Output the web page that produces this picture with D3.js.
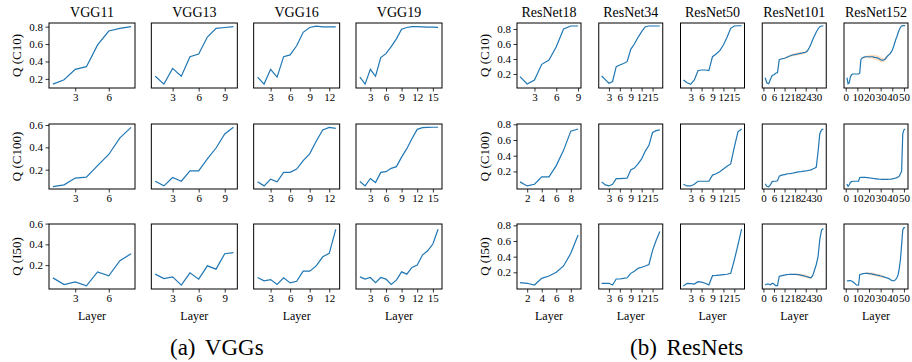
<!DOCTYPE html>
<html>
<head>
<meta charset="utf-8">
<script src="https://cdn.jsdelivr.net/npm/d3@7"></script>
<style>
  body { margin: 0; background: #fff; }
  svg { display: block; font-family: 'Liberation Serif', 'Times New Roman', serif; }
</style>
</head>
<body>
<svg id="chart" width="912" height="362"></svg>
<script>
// ---- data ----
const vggNames = ['VGG11', 'VGG13', 'VGG16', 'VGG19']
const resNames = ['ResNet18', 'ResNet34', 'ResNet50', 'ResNet101', 'ResNet152']
const rowLabels = ['Q (C10)', 'Q (C100)', 'Q (I50)']
const captions = ['(a) VGGs', '(b) ResNets']

const vggXTicks = [[3, 6], [3, 6, 9], [3, 6, 9, 12], [3, 6, 9, 12, 15]]
const resXTicksTop = [[3, 6, 9], [3, 6, 9, 12, 15], [3, 6, 9, 12, 15], [0, 6, 12, 18, 24, 30], [0, 10, 20, 30, 40, 50]]
const resXTicksLow = [[2, 4, 6, 8], [3, 6, 9, 12, 15], [3, 6, 9, 12, 15], [0, 6, 12, 18, 24, 30], [0, 10, 20, 30, 40, 50]]
const vggYTicks = [[0.2, 0.4, 0.6, 0.8], [0.2, 0.4, 0.6], [0.2, 0.4, 0.6]]
const resYTicks = [[0.2, 0.4, 0.6, 0.8], [0.2, 0.4, 0.6, 0.8], [0.2, 0.4, 0.6, 0.8]]
const vggYDomains = [[0.095, 0.842], [0.027, 0.609], [-0.03, 0.596]]
const resYDomains = [[0.013, 0.88], [-0.024, 0.804], [-0.013, 0.817]]

// VGG, Q per layer
const vgg11C10 = [0.14, 0.19, 0.31, 0.34, 0.59, 0.75, 0.78, 0.80]
const vgg13C10 = [0.23, 0.14, 0.32, 0.23, 0.455, 0.485, 0.68, 0.78, 0.79, 0.80]
const vgg16C10 = [0.22, 0.14, 0.31, 0.22, 0.455, 0.475, 0.58, 0.735, 0.79, 0.805, 0.797, 0.797, 0.797]
const vgg19C10 = [0.22, 0.14, 0.31, 0.23, 0.445, 0.49, 0.57, 0.66, 0.77, 0.79, 0.80, 0.80, 0.797, 0.795, 0.794, 0.792]

const vgg11C100 = [0.048, 0.064, 0.125, 0.133, 0.236, 0.336, 0.485, 0.579]
const vgg13C100 = [0.097, 0.055, 0.13, 0.097, 0.19, 0.19, 0.297, 0.394, 0.52, 0.58]
const vgg16C100 = [0.091, 0.055, 0.115, 0.091, 0.176, 0.176, 0.206, 0.282, 0.342, 0.455, 0.555, 0.579, 0.57]
const vgg19C100 = [0.094, 0.055, 0.121, 0.085, 0.176, 0.182, 0.212, 0.227, 0.312, 0.388, 0.479, 0.561, 0.576, 0.579, 0.58, 0.58]

const vgg11I50 = [0.077, 0.013, 0.039, 0.0, 0.135, 0.097, 0.242, 0.31]
const vgg13I50 = [0.113, 0.071, 0.087, 0.007, 0.126, 0.065, 0.193, 0.161, 0.31, 0.32]
const vgg16I50 = [0.081, 0.048, 0.061, 0.013, 0.077, 0.029, 0.045, 0.142, 0.142, 0.193, 0.28, 0.313, 0.545]
const vgg19I50 = [0.087, 0.065, 0.081, 0.032, 0.081, 0.065, 0.013, 0.055, 0.135, 0.113, 0.178, 0.2, 0.297, 0.338, 0.403, 0.545]

// ResNet, Q per layer
const r18C10 = [0.164, 0.067, 0.12, 0.329, 0.387, 0.564, 0.80, 0.84, 0.84]
const r34C10 = [0.173, 0.124, 0.076, 0.10, 0.298, 0.32, 0.34, 0.364, 0.529, 0.60, 0.689, 0.764, 0.831, 0.84, 0.84, 0.84, 0.84]
const r50C10 = [0.12, 0.084, 0.062, 0.12, 0.244, 0.253, 0.253, 0.244, 0.431, 0.467, 0.511, 0.587, 0.689, 0.809, 0.84, 0.843, 0.843]
const r101C10 = [0.15, 0.08, 0.07, 0.13, 0.18, 0.19, 0.21, 0.22, 0.39, 0.40,
  0.405, 0.41, 0.42, 0.43, 0.44, 0.45, 0.455, 0.46, 0.465, 0.47,
  0.475, 0.48, 0.485, 0.49, 0.51, 0.55, 0.60, 0.66, 0.71, 0.76,
  0.80, 0.83, 0.84, 0.84]
const r152C10 = [0.15, 0.07, 0.08, 0.16, 0.19, 0.2, 0.2, 0.2, 0.2, 0.2,
  0.2, 0.21, 0.39, 0.41, 0.42, 0.425, 0.43, 0.43, 0.43, 0.43,
  0.43, 0.43, 0.43, 0.425, 0.42, 0.42, 0.415, 0.41, 0.40, 0.39,
  0.385, 0.385, 0.39, 0.40, 0.42, 0.44, 0.455, 0.47, 0.49, 0.52,
  0.56, 0.61, 0.66, 0.70, 0.75, 0.79, 0.82, 0.84, 0.845, 0.845,
  0.845]

const r18C100 = [0.067, 0.015, 0.037, 0.131, 0.131, 0.274, 0.468, 0.713, 0.74]
const r34C100 = [0.067, 0.028, 0.015, 0.037, 0.109, 0.109, 0.111, 0.113, 0.218, 0.242, 0.295, 0.36, 0.459, 0.532, 0.696, 0.72, 0.73]
const r50C100 = [0.037, 0.015, 0.015, 0.037, 0.075, 0.075, 0.075, 0.075, 0.153, 0.17, 0.196, 0.23, 0.265, 0.295, 0.51, 0.704, 0.74]
const r101C100 = [0.04, 0.01, 0.005, 0.03, 0.07, 0.075, 0.075, 0.08, 0.14, 0.15,
  0.155, 0.16, 0.165, 0.17, 0.172, 0.175, 0.18, 0.185, 0.19, 0.193,
  0.196, 0.2, 0.203, 0.206, 0.21, 0.215, 0.22, 0.23, 0.24, 0.255,
  0.45, 0.68, 0.73, 0.74]
const r152C100 = [0.04, 0.01, 0.03, 0.06, 0.07, 0.075, 0.075, 0.075, 0.075, 0.075,
  0.075, 0.12, 0.125, 0.125, 0.125, 0.124, 0.123, 0.122, 0.12, 0.118,
  0.116, 0.114, 0.112, 0.11, 0.108, 0.106, 0.104, 0.102, 0.1, 0.1,
  0.099, 0.098, 0.098, 0.098, 0.098, 0.099, 0.1, 0.1, 0.102, 0.105,
  0.108, 0.112, 0.116, 0.12, 0.13, 0.14, 0.17, 0.2, 0.68, 0.73,
  0.74]

const r18I50 = [0.068, 0.06, 0.038, 0.123, 0.153, 0.2, 0.281, 0.443, 0.677]
const r34I50 = [0.06, 0.06, 0.06, 0.038, 0.115, 0.115, 0.123, 0.13, 0.187, 0.215, 0.251, 0.265, 0.28, 0.30, 0.48, 0.61, 0.72]
const r50I50 = [0.025, 0.06, 0.055, 0.05, 0.08, 0.075, 0.06, 0.04, 0.157, 0.16, 0.165, 0.17, 0.175, 0.187, 0.357, 0.55, 0.753]
const r101I50 = [0.04, 0.05, 0.05, 0.04, 0.06, 0.05, 0.03, 0.03, 0.15, 0.155,
  0.16, 0.165, 0.17, 0.172, 0.173, 0.174, 0.175, 0.174, 0.172, 0.17,
  0.165, 0.16, 0.155, 0.15, 0.142, 0.135, 0.13, 0.16, 0.23, 0.30,
  0.40, 0.62, 0.74, 0.76]
const r152I50 = [0.09, 0.09, 0.095, 0.095, 0.09, 0.08, 0.07, 0.055, 0.04, 0.035,
  0.035, 0.17, 0.175, 0.18, 0.183, 0.185, 0.187, 0.187, 0.186, 0.184,
  0.182, 0.18, 0.177, 0.174, 0.17, 0.167, 0.163, 0.16, 0.157, 0.153,
  0.15, 0.145, 0.14, 0.135, 0.13, 0.125, 0.12, 0.11, 0.10, 0.095,
  0.09, 0.095, 0.11, 0.13, 0.17, 0.25, 0.36, 0.55, 0.74, 0.77,
  0.77]

// std band (half width) where it is visible
const r101C10Sd = [0, 0, 0, 0, 0, 0, 0, 0, 0, 0,
  0.005, 0.01, 0.012, 0.015, 0.015, 0.018, 0.02, 0.02, 0.02, 0.02,
  0.02, 0.02, 0.018, 0.015, 0.012, 0.01, 0.005, 0, 0, 0,
  0, 0, 0, 0]
const r152C10Sd = [0, 0, 0, 0, 0, 0, 0, 0, 0, 0,
  0, 0, 0.005, 0.008, 0.01, 0.012, 0.015, 0.018, 0.02, 0.022,
  0.025, 0.025, 0.028, 0.03, 0.03, 0.032, 0.035, 0.035, 0.035, 0.035,
  0.032, 0.03, 0.028, 0.025, 0.02, 0.015, 0.01, 0.008, 0.005, 0,
  0, 0, 0, 0, 0, 0, 0, 0, 0, 0,
  0]
const r152C100Sd = [0, 0, 0, 0, 0, 0, 0, 0, 0, 0,
  0, 0, 0, 0, 0, 0, 0, 0, 0, 0,
  0, 0, 0, 0, 0, 0, 0.004, 0.005, 0.006, 0.007,
  0.008, 0.008, 0.008, 0.008, 0.008, 0.007, 0.006, 0.005, 0.004, 0,
  0, 0, 0, 0, 0, 0, 0, 0, 0, 0,
  0]
const r101I50Sd = [0, 0, 0, 0, 0, 0, 0, 0, 0, 0,
  0, 0, 0, 0, 0.005, 0.008, 0.01, 0.012, 0.015, 0.015,
  0.018, 0.02, 0.02, 0.02, 0.02, 0.018, 0.015, 0.01, 0.005, 0,
  0, 0, 0, 0]
const r152I50Sd = [0, 0, 0, 0, 0, 0, 0, 0, 0, 0,
  0, 0, 0, 0, 0.005, 0.008, 0.01, 0.012, 0.015, 0.015,
  0.018, 0.02, 0.02, 0.02, 0.02, 0.02, 0.02, 0.02, 0.02, 0.02,
  0.018, 0.015, 0.012, 0.01, 0.008, 0.005, 0, 0, 0, 0,
  0, 0, 0, 0, 0, 0, 0, 0, 0, 0,
  0]

const vggRows = [
  [vgg11C10, vgg13C10, vgg16C10, vgg19C10],
  [vgg11C100, vgg13C100, vgg16C100, vgg19C100],
  [vgg11I50, vgg13I50, vgg16I50, vgg19I50],
]
const resRows = [
  [r18C10, r34C10, r50C10, r101C10, r152C10],
  [r18C100, r34C100, r50C100, r101C100, r152C100],
  [r18I50, r34I50, r50I50, r101I50, r152I50],
]
const resBands = [
  [null, null, null, r101C10Sd, r152C10Sd],
  [null, null, null, null, r152C100Sd],
  [null, null, null, r101I50Sd, r152I50Sd],
]

// ---- layout ----
const rowTops = [23, 124, 224]
const boxH = 65
const blue = '#1f77b4'
const orange = '#ff7f0e'

const svg = d3.select('#chart')

const drawPanel = (x0, y0, w, vals, band, xTicks, yTicks, yDom, opts) => {
  const n = vals.length
  const pad = 0.05 * (n - 1)
  const x = d3.scaleLinear().domain([1 - pad, n + pad]).range([x0, x0 + w])
  const y = d3.scaleLinear().domain(yDom).range([y0 + boxH, y0])
  const g = svg.append('g')

  if (band) {
    const area = d3.area()
      .x((d, i) => x(i + 1))
      .y0((d, i) => y(d - band[i]))
      .y1((d, i) => y(d + band[i]))
    g.append('path').datum(vals).attr('d', area)
      .attr('fill', orange).attr('fill-opacity', 0.25)
  }

  const line = d3.line().x((d, i) => x(i + 1)).y(d => y(d))
  g.append('path').datum(vals).attr('d', line)
    .attr('fill', 'none').attr('stroke', blue).attr('stroke-width', 1.2)

  const xa = g.append('g').attr('transform', `translate(0,${y0 + boxH})`)
    .call(d3.axisBottom(x).tickValues(xTicks).tickSize(3.5).tickPadding(2).tickFormat(d3.format('d')))
  xa.attr('font-family', null)
  xa.select('.domain').remove()
  xa.selectAll('text').attr('font-size', 11).attr('fill', '#000')
  xa.selectAll('line').attr('stroke', '#000').attr('stroke-width', 0.8)

  if (opts.showY) {
    const ya = g.append('g').attr('transform', `translate(${x0},0)`)
      .call(d3.axisLeft(y).tickValues(yTicks).tickSize(3.5).tickPadding(2.5).tickFormat(d3.format('.1f')))
    ya.attr('font-family', null)
    ya.select('.domain').remove()
    ya.selectAll('text').attr('font-size', 11).attr('fill', '#000')
    ya.selectAll('line').attr('stroke', '#000').attr('stroke-width', 0.8)
  }

  g.append('rect').attr('x', x0).attr('y', y0).attr('width', w).attr('height', boxH)
    .attr('fill', 'none').attr('stroke', '#000').attr('stroke-width', 1)

  if (opts.title) {
    g.append('text').attr('x', x0 + w / 2).attr('y', y0 - 6.5)
      .attr('text-anchor', 'middle').attr('font-size', 14).text(opts.title)
  }
  if (opts.xlabel) {
    g.append('text').attr('x', x0 + w / 2).attr('y', y0 + boxH + 31)
      .attr('text-anchor', 'middle').attr('font-size', 12).text(opts.xlabel)
  }
}

const group = (names, rows, bands, lefts, w, xTickSets, yTicks, yDoms, labelX) => {
  rows.forEach((row, r) => {
    row.forEach((vals, c) => {
      drawPanel(lefts[c], rowTops[r], w, vals, bands ? bands[r][c] : null,
        xTickSets[r][c], yTicks[r], yDoms[r], {
          showY: c === 0,
          title: r === 0 ? names[c] : null,
          xlabel: r === 2 ? 'Layer' : null,
        })
    })
    const cy = rowTops[r] + boxH / 2
    svg.append('text')
      .attr('transform', `translate(${labelX},${cy}) rotate(-90)`)
      .attr('text-anchor', 'middle').attr('font-size', 13).text(rowLabels[r])
  })
}

const vggLefts = vggNames.map((d, i) => 49 + i * 102.33)
const resLefts = resNames.map((d, i) => 517 + i * 81.75)

group(vggNames, vggRows, null, vggLefts, 86, [vggXTicks, vggXTicks, vggXTicks], vggYTicks, vggYDomains, 21)
group(resNames, resRows, resBands, resLefts, 64, [resXTicksTop, resXTicksLow, resXTicksLow], resYTicks, resYDomains, 489)

svg.append('text').attr('x', 170).attr('y', 355).attr('font-size', 23)
  .attr('word-spacing', 4).text(captions[0])
svg.append('text').attr('x', 630).attr('y', 355).attr('font-size', 23)
  .attr('word-spacing', 4).text(captions[1])
</script>
</body>
</html>
